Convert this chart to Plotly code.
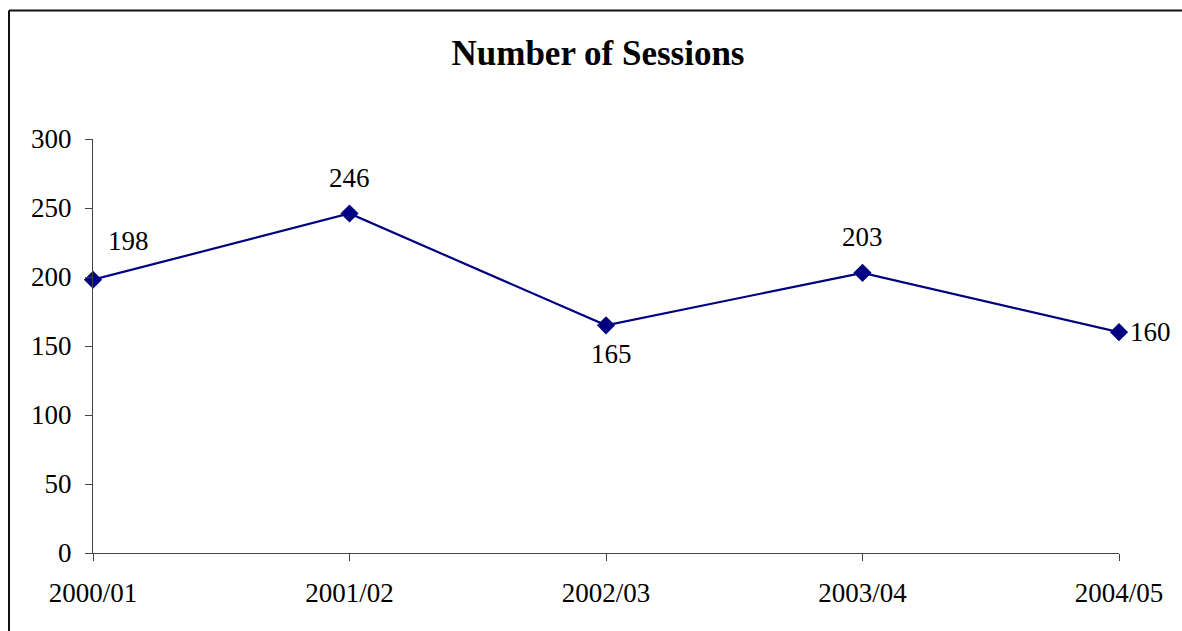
import plotly.graph_objects as go

categories = ["2000/01", "2001/02", "2002/03", "2003/04", "2004/05"]
sessions = [198, 246, 165, 203, 160]
y_ticks = [0, 50, 100, 150, 200, 250, 300]

# label offsets (pixels) per point
label_shift_x = [35, 0, 5, 0, 31]
label_shift_y = [39, 36, -29, 36, 0]

navy = "#000080"
font_family = "Liberation Serif, Times New Roman, serif"

W, H = 1182, 631
L, R, T, B = 93, 63, 139, 78
pw = W - L - R
ph = H - T - B

fig = go.Figure()
fig.add_trace(go.Scatter(
    x=list(range(len(categories))), y=sessions, mode="lines+markers",
    line=dict(color=navy, width=2.2),
    marker=dict(symbol="diamond", size=14, color=navy),
    hoverinfo="skip", showlegend=False, cliponaxis=False,
))

for i, v in enumerate(sessions):
    fig.add_annotation(x=i, y=v, text=str(v), showarrow=False,
                       xshift=label_shift_x[i], yshift=label_shift_y[i],
                       font=dict(family=font_family, size=27, color="black"))

# outer frame: only top and left edges are visible in the window
x_left = (9 - L) / pw
y_top = (ph + T - 10.5) / ph
fig.add_shape(type="line", xref="paper", yref="paper",
              x0=x_left, y0=y_top, x1=(W - L) / pw + 0.01, y1=y_top,
              line=dict(color="#111111", width=2), layer="below")
fig.add_shape(type="line", xref="paper", yref="paper",
              x0=x_left, y0=-B / ph - 0.01, x1=x_left, y1=y_top,
              line=dict(color="#111111", width=2), layer="below")

fig.update_layout(
    width=W, height=H,
    margin=dict(l=L, r=R, t=T, b=B),
    paper_bgcolor="white", plot_bgcolor="white",
    title=dict(text="<b>Number of Sessions</b>", x=598 / W, xanchor="center",
               y=1 - 53 / H, yanchor="middle",
               font=dict(family=font_family, size=35, color="black")),
    font=dict(family=font_family, size=27, color="black"),
    xaxis=dict(range=[0, 4], tickmode="array", tickvals=list(range(len(categories))),
               ticktext=categories, showgrid=False, zeroline=False,
               showline=True, linecolor="#444444", linewidth=1,
               ticks="outside", ticklen=7, tickcolor="#444444",
               tickfont=dict(family=font_family, size=27, color="black"),
               ticklabelstandoff=9),
    yaxis=dict(range=[0, 300], tickvals=y_ticks, showgrid=False, zeroline=False,
               showline=True, linecolor="#444444", linewidth=1,
               ticks="outside", ticklen=7, tickcolor="#444444",
               tickfont=dict(family=font_family, size=27, color="black"),
               ticklabelstandoff=8),
)

fig.write_html("out.html", config={"displayModeBar": False},
               post_script="document.body.style.margin='0';document.body.style.overflow='hidden';")
